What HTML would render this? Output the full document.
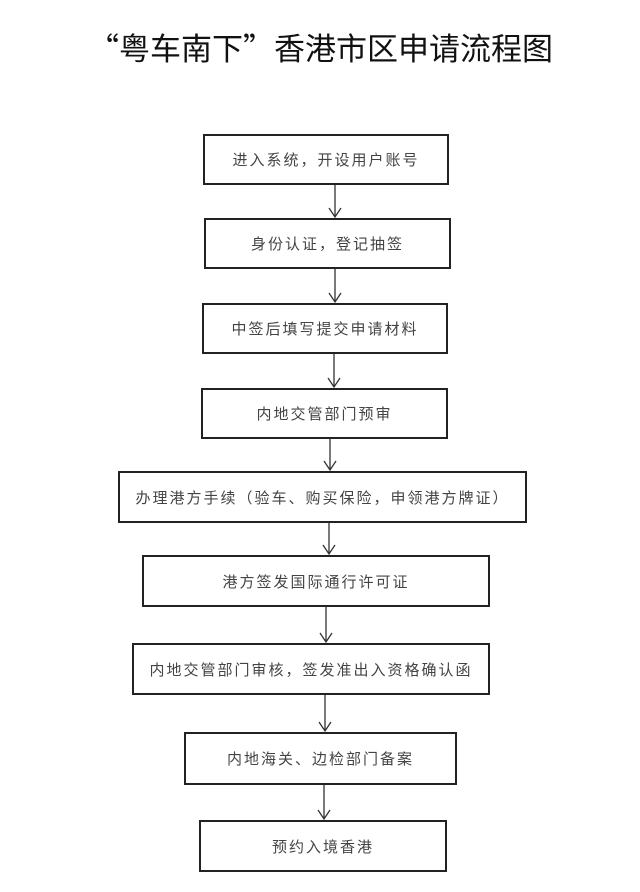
<!DOCTYPE html>
<html><head><meta charset="utf-8"><style>
body{margin:0;width:640px;height:892px;background:#fff;position:relative;overflow:hidden;font-family:"Liberation Sans","Noto Sans CJK SC",sans-serif}
.t{position:absolute;left:88px;top:27px;font-family:"Noto Sans CJK SC",sans-serif;font-size:31px;color:#111;line-height:40px;white-space:nowrap}
.b{position:absolute;box-sizing:border-box;border:2px solid #222;display:flex;align-items:center;justify-content:center;font-size:15px;letter-spacing:2px;color:#444;white-space:nowrap}
svg{position:absolute;left:0;top:0}
</style></head><body>
<div class="t">“粤车南下”香港市区申请流程图</div>
<div class="b" style="left:203px;top:134px;width:246px;height:51px">进入系统，开设用户账号</div>
<div class="b" style="left:204px;top:218px;width:247px;height:51px">身份认证，登记抽签</div>
<div class="b" style="left:202px;top:303px;width:246px;height:51px">中签后填写提交申请材料</div>
<div class="b" style="left:201px;top:388px;width:247px;height:51px">内地交管部门预审</div>
<div class="b" style="left:118px;top:471px;width:409px;height:52px">办理港方手续（验车、购买保险，申领港方牌证）</div>
<div class="b" style="left:142px;top:555px;width:348px;height:52px">港方签发国际通行许可证</div>
<div class="b" style="left:132px;top:643px;width:358px;height:52px">内地交管部门审核，签发准出入资格确认函</div>
<div class="b" style="left:184px;top:732px;width:273px;height:53px">内地海关、边检部门备案</div>
<div class="b" style="left:199px;top:820px;width:248px;height:52px">预约入境香港</div>
<svg width="640" height="892" stroke="#333" stroke-width="1.3" fill="none">
<path d="M335 185V217M329 208L335 217L341 208"/>
<path d="M335 269V302M329 293L335 302L341 293"/>
<path d="M334 354V387M328 378L334 387L340 378"/>
<path d="M330 439V470M324 461L330 470L336 461"/>
<path d="M329 523V554M323 545L329 554L335 545"/>
<path d="M326 607V642M320 633L326 642L332 633"/>
<path d="M325 695V731M319 722L325 731L331 722"/>
<path d="M324 785V819M318 810L324 819L330 810"/>
</svg>
</body></html>
